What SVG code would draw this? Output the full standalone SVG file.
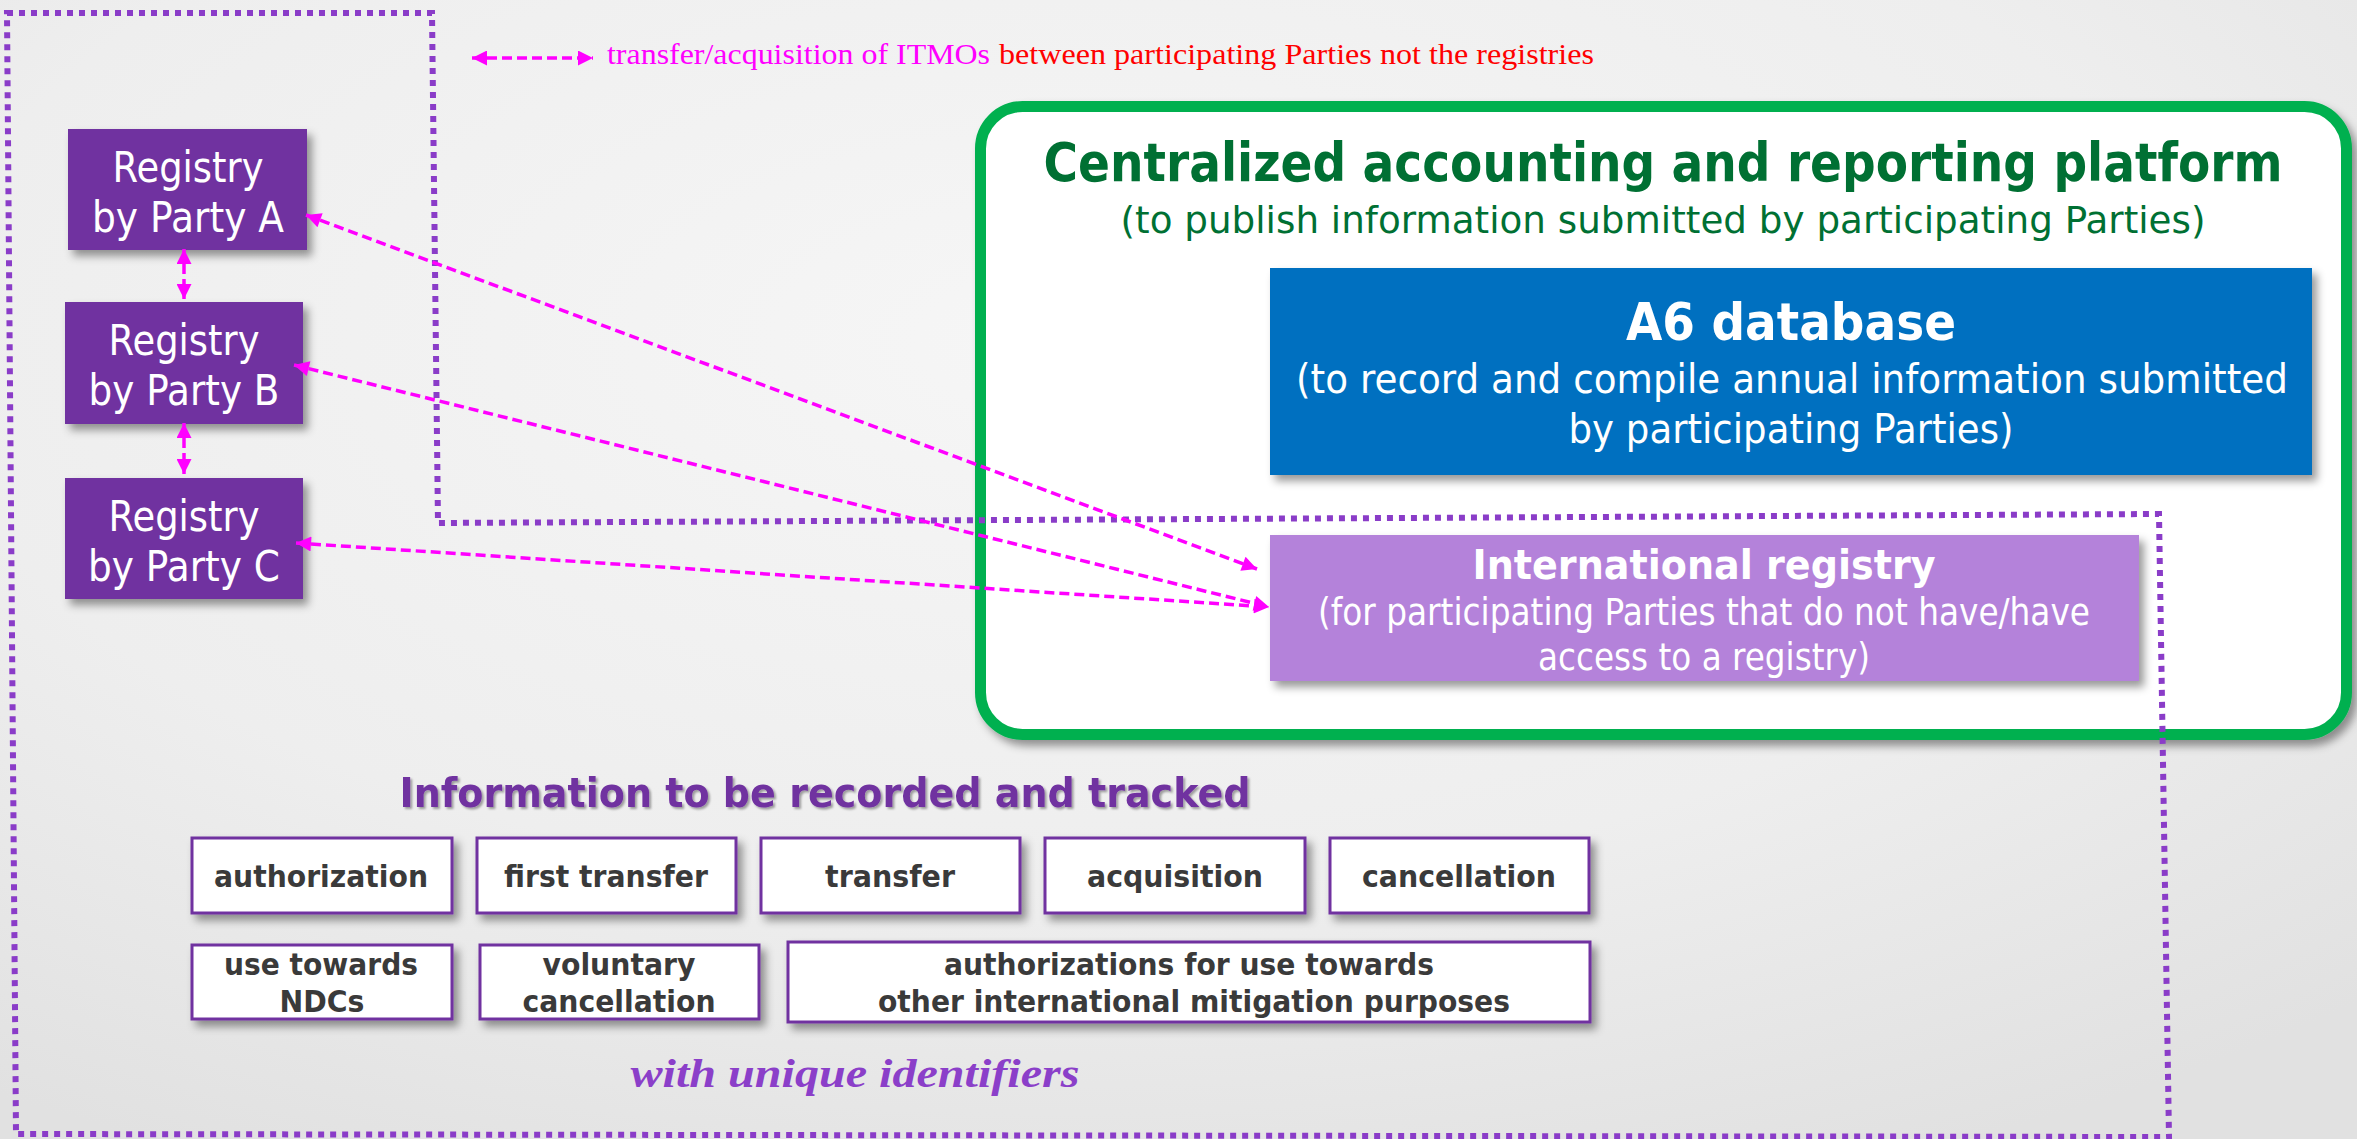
<svg xmlns="http://www.w3.org/2000/svg" width="2357" height="1139" viewBox="0 0 2357 1139">
<defs>
<radialGradient id="bg" cx="45%" cy="30%" r="80%">
<stop offset="0" stop-color="#f6f6f6"/>
<stop offset="0.6" stop-color="#eeeeee"/>
<stop offset="1" stop-color="#e1e1e1"/>
</radialGradient>
<filter id="sh" x="-10%" y="-10%" width="130%" height="150%">
<feDropShadow dx="5" dy="6" stdDeviation="4" flood-color="#000" flood-opacity="0.4"/>
</filter>
<filter id="tsh" x="-5%" y="-20%" width="110%" height="150%">
<feDropShadow dx="2" dy="2" stdDeviation="1.2" flood-color="#000" flood-opacity="0.35"/>
</filter>
<marker id="ah" viewBox="0 0 10 10" refX="10" refY="5" markerWidth="16" markerHeight="15" markerUnits="userSpaceOnUse" orient="auto-start-reverse">
<path d="M0,0 L10,5 L0,10 z" fill="#FF00FF"/>
</marker>
<style>
.sans{font-family:"DejaVu Sans",Verdana,sans-serif}
.serif{font-family:"Liberation Serif","Times New Roman",serif}
.reg rect{fill:#7030A0;filter:url(#sh)}
.regt{fill:#ffffff;font-size:42px;text-anchor:middle}
.item rect{fill:#ffffff;stroke:#7030A0;stroke-width:3;filter:url(#sh)}
.itemt{fill:#3a3a3a;font-size:30px;font-weight:bold;text-anchor:middle}
.conn{fill:none;stroke:#FF00FF;stroke-width:3.5;stroke-dasharray:10 5;marker-start:url(#ah);marker-end:url(#ah)}
.dot{fill:none;stroke:#8A3CC8;stroke-width:6;stroke-dasharray:6 6}
.wt{fill:#ffffff;text-anchor:middle}
.gt{fill:#007033;text-anchor:middle}
</style>
</defs>
<rect x="0" y="0" width="2357" height="1139" fill="url(#bg)"/>

<g id="platform">
<rect x="980.5" y="106.5" width="1366" height="628" rx="42" fill="#ffffff" stroke="#00B050" stroke-width="11" filter="url(#sh)"/>
<text class="sans gt" x="1663" y="181" font-size="53" font-weight="bold" textLength="1239" lengthAdjust="spacingAndGlyphs">Centralized accounting and reporting platform</text>
<text class="sans gt" x="1663" y="233" font-size="38" textLength="1085" lengthAdjust="spacingAndGlyphs">(to publish information submitted by participating Parties)</text>
</g>

<g id="a6db">
<rect x="1270" y="268" width="1042" height="207" fill="#0070C0" filter="url(#sh)"/>
<text class="sans wt" x="1791" y="340" font-size="51" font-weight="bold" textLength="330" lengthAdjust="spacingAndGlyphs">A6 database</text>
<text class="sans wt" x="1792" y="393" font-size="41" textLength="992" lengthAdjust="spacingAndGlyphs">(to record and compile annual information submitted</text>
<text class="sans wt" x="1791" y="443" font-size="41" textLength="445" lengthAdjust="spacingAndGlyphs">by participating Parties)</text>
</g>

<g id="boundary">
<polygon class="dot" points="7,13 432,13 438,523 2159,514 2169,1137 16,1134"/>
</g>

<g id="intreg">
<rect x="1270" y="535" width="869" height="146" fill="#B482DA" filter="url(#sh)"/>
<text class="sans wt" x="1704" y="579" font-size="40" font-weight="bold" textLength="463" lengthAdjust="spacingAndGlyphs">International registry</text>
<text class="sans wt" x="1704" y="625" font-size="37" textLength="772" lengthAdjust="spacingAndGlyphs">(for participating Parties that do not have/have</text>
<text class="sans wt" x="1704" y="670" font-size="37" textLength="332" lengthAdjust="spacingAndGlyphs">access to a registry)</text>
</g>

<g id="regA" class="reg">
<rect x="68" y="129" width="239" height="121"/>
<text class="sans regt" x="188" y="182" textLength="151" lengthAdjust="spacingAndGlyphs">Registry</text>
<text class="sans regt" x="188" y="232" textLength="192" lengthAdjust="spacingAndGlyphs">by Party A</text>
</g>
<g id="regB" class="reg">
<rect x="65" y="302" width="238" height="122"/>
<text class="sans regt" x="184" y="355" textLength="151" lengthAdjust="spacingAndGlyphs">Registry</text>
<text class="sans regt" x="184" y="405" textLength="191" lengthAdjust="spacingAndGlyphs">by Party B</text>
</g>
<g id="regC" class="reg">
<rect x="65" y="478" width="238" height="121"/>
<text class="sans regt" x="184" y="531" textLength="151" lengthAdjust="spacingAndGlyphs">Registry</text>
<text class="sans regt" x="184" y="581" textLength="192" lengthAdjust="spacingAndGlyphs">by Party C</text>
</g>

<g id="connectors">
<line class="conn" x1="184" y1="249" x2="184" y2="299"/>
<line class="conn" x1="184" y1="423" x2="184" y2="474"/>
<line class="conn" x1="306" y1="215" x2="1257" y2="569"/>
<line class="conn" x1="294" y1="365" x2="1269" y2="607"/>
<line class="conn" x1="296" y1="543" x2="1269" y2="607"/>
<line class="conn" x1="472" y1="58" x2="593" y2="58"/>
</g>

<g id="legend">
<text class="serif" x="607" y="64" font-size="30" fill="#FF00FF" textLength="383" lengthAdjust="spacingAndGlyphs">transfer/acquisition of ITMOs</text>
<text class="serif" x="999" y="64" font-size="30" fill="#FF0000" textLength="595" lengthAdjust="spacingAndGlyphs">between participating Parties not the registries</text>
</g>

<g id="infotitle">
<text class="sans" x="825" y="807" font-size="41" font-weight="bold" fill="#7030A0" text-anchor="middle" textLength="851" lengthAdjust="spacingAndGlyphs" filter="url(#tsh)">Information to be recorded and tracked</text>
</g>

<g id="item-authorization" class="item">
<rect x="192" y="838" width="260" height="75"/>
<text class="sans itemt" x="321" y="887" textLength="214" lengthAdjust="spacingAndGlyphs">authorization</text>
</g>
<g id="item-firsttransfer" class="item">
<rect x="477" y="838" width="259" height="75"/>
<text class="sans itemt" x="606" y="887" textLength="204" lengthAdjust="spacingAndGlyphs">first transfer</text>
</g>
<g id="item-transfer" class="item">
<rect x="761" y="838" width="259" height="75"/>
<text class="sans itemt" x="890" y="887" textLength="130" lengthAdjust="spacingAndGlyphs">transfer</text>
</g>
<g id="item-acquisition" class="item">
<rect x="1045" y="838" width="260" height="75"/>
<text class="sans itemt" x="1175" y="887" textLength="176" lengthAdjust="spacingAndGlyphs">acquisition</text>
</g>
<g id="item-cancellation" class="item">
<rect x="1330" y="838" width="259" height="75"/>
<text class="sans itemt" x="1459" y="887" textLength="194" lengthAdjust="spacingAndGlyphs">cancellation</text>
</g>
<g id="item-ndc" class="item">
<rect x="192" y="945" width="260" height="74"/>
<text class="sans itemt" x="321" y="975" textLength="194" lengthAdjust="spacingAndGlyphs">use towards</text>
<text class="sans itemt" x="322" y="1012" textLength="85" lengthAdjust="spacingAndGlyphs">NDCs</text>
</g>
<g id="item-voluntary" class="item">
<rect x="480" y="945" width="279" height="74"/>
<text class="sans itemt" x="619" y="975" textLength="153" lengthAdjust="spacingAndGlyphs">voluntary</text>
<text class="sans itemt" x="619" y="1012" textLength="193" lengthAdjust="spacingAndGlyphs">cancellation</text>
</g>
<g id="item-other" class="item">
<rect x="788" y="942" width="802" height="80"/>
<text class="sans itemt" x="1189" y="975" textLength="490" lengthAdjust="spacingAndGlyphs">authorizations for use towards</text>
<text class="sans itemt" x="1194" y="1012" textLength="632" lengthAdjust="spacingAndGlyphs">other international mitigation purposes</text>
</g>

<g id="unique">
<text class="serif" x="855" y="1087" font-size="40" font-weight="bold" font-style="italic" fill="#8B3FC9" text-anchor="middle" textLength="449" lengthAdjust="spacingAndGlyphs">with unique identifiers</text>
</g>
</svg>
